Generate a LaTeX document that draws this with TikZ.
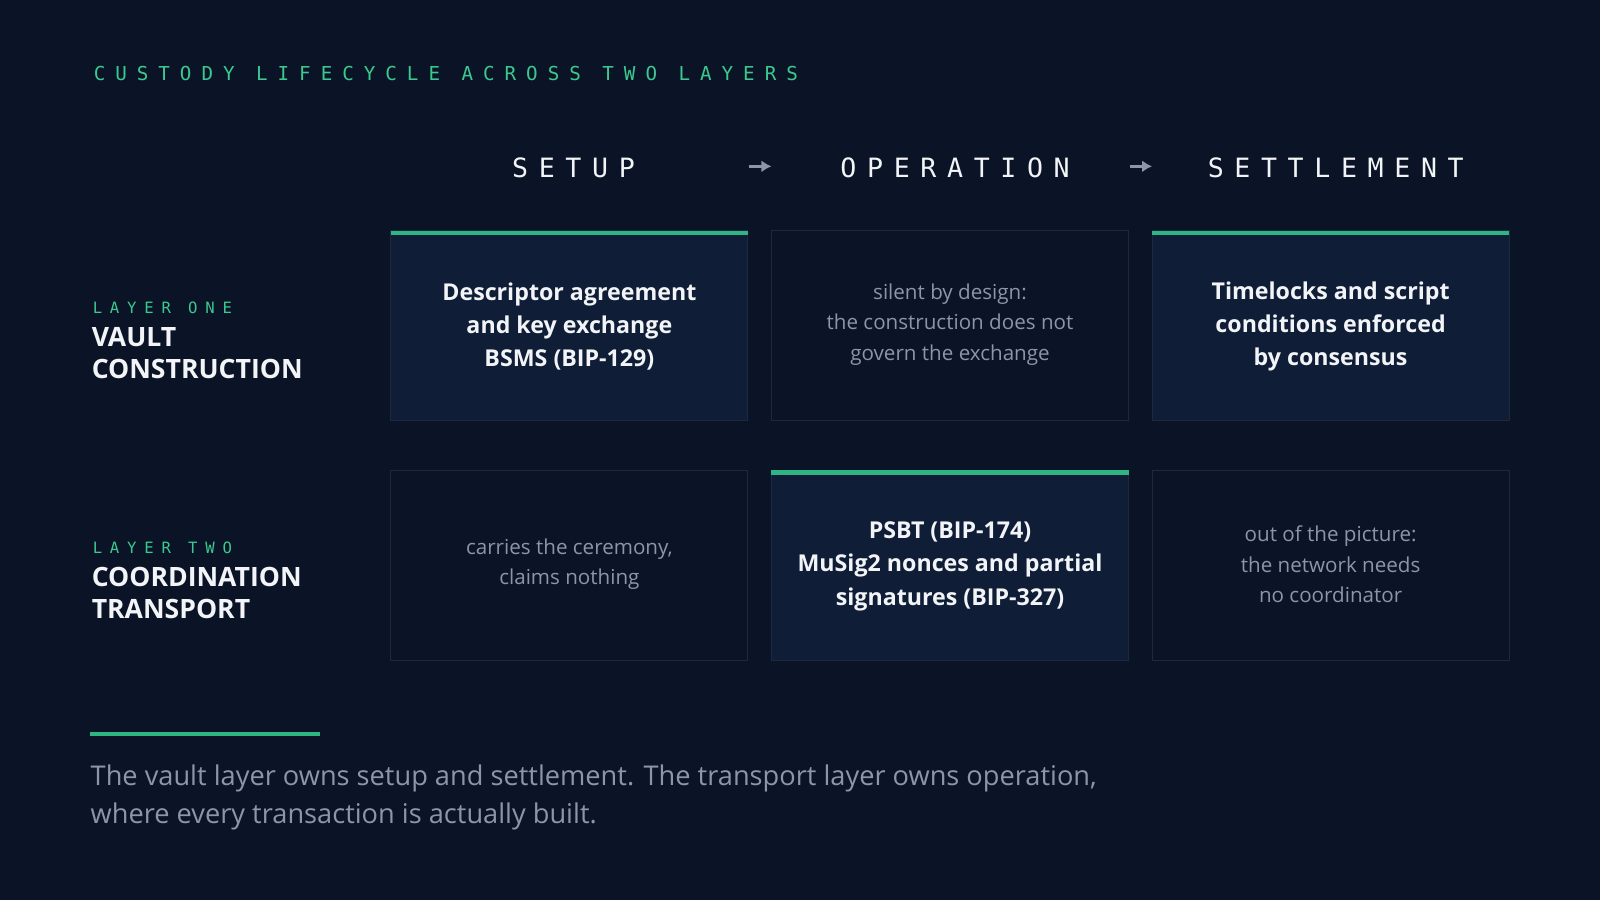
\documentclass[tikz,border=0pt]{standalone}
\usetikzlibrary{arrows.meta}
\usepackage{fontspec}
\setmainfont{Open Sans}
\newfontfamily\monoA[LetterSpace=52]{DejaVu Sans Mono}
\newfontfamily\monoC[LetterSpace=50]{DejaVu Sans Mono}
\newfontfamily\monoB[LetterSpace=40]{DejaVu Sans Mono}
\definecolor{bg}{HTML}{0A1426}
\definecolor{hi}{HTML}{0F1E36}
\definecolor{bd}{HTML}{1D2A3D}
\definecolor{gr}{HTML}{2FB583}
\definecolor{gt}{HTML}{3CC98F}
\definecolor{tx}{HTML}{8C96A8}
\definecolor{wh}{HTML}{F2F4F7}
\begin{document}
\begin{tikzpicture}[x=0.5102pt,y=-0.5102pt,
 cellhi/.style={fill=hi,draw=bd,line width=0.5pt},
 cello/.style={fill=bg,draw=bd,line width=0.5pt},
 bold/.style={align=center,text=wh,font=\fontsize{11.6}{16.6}\selectfont\bfseries},
 soft/.style={align=center,text=tx,font=\fontsize{10.3}{15.2}\selectfont},
 head/.style={text=wh,font=\monoB\fontsize{13.3}{15}\selectfont},
 lab/.style={anchor=west,text=gt,font=\monoC\fontsize{7.8}{9}\selectfont},
 big/.style={anchor=north west,align=left,text=wh,font=\fontsize{13.3}{16.2}\selectfont\bfseries},
 arr/.style={-{Latex[length=5pt,width=6pt]},line width=1.6pt,draw=tx}]
\fill[bg] (0,0) rectangle (1568,882);
\node[anchor=west,text=gt,font=\monoA\fontsize{9.6}{11}\selectfont] (title) at (85,72) {CUSTODY LIFECYCLE ACROSS TWO LAYERS};
\node[head] (h1) at (562,164) {SETUP};
\node[head] (h2) at (936,164) {OPERATION};
\node[head] (h3) at (1309,164) {SETTLEMENT};
\coordinate (a1) at (734,163); \coordinate (a1e) at (756,163);
\coordinate (a2) at (1107,163); \coordinate (a2e) at (1129,163);
\draw[arr] (a1) -- (a1e);
\draw[arr] (a2) -- (a2e);
% row 1
\draw[cellhi] (383,226) rectangle (733,412);
\fill[gr] (383,226) rectangle (733,230);
\draw[cello] (756,226) rectangle (1106,412);
\draw[cellhi] (1129,226) rectangle (1479,412);
\fill[gr] (1129,226) rectangle (1479,230);
\node[bold] (c11) at (558,320) {Descriptor agreement\\and key exchange\\BSMS (BIP-129)};
\node[soft] (c12) at (931,318) {silent by design:\\the construction does not\\govern the exchange};
\node[bold] (c13) at (1304,320) {Timelocks and script\\conditions enforced\\by consensus};
% row 2
\draw[cello] (383,461) rectangle (733,647);
\draw[cellhi] (756,461) rectangle (1106,647);
\fill[gr] (756,461) rectangle (1106,465);
\draw[cello] (1129,461) rectangle (1479,647);
\node[soft] (c21) at (558,553) {carries the ceremony,\\claims nothing};
\node[bold] (c22) at (931,555) {PSBT (BIP-174)\\MuSig2 nonces and partial\\signatures (BIP-327)};
\node[soft] (c23) at (1304,553) {out of the picture:\\the network needs\\no coordinator};
% row labels
\node[lab] (l1) at (84,302) {LAYER ONE};
\node[big] (v1) at (83,314) {VAULT\\CONSTRUCTION};
\node[lab] (l2) at (84,537) {LAYER TWO};
\node[big] (v2) at (83,549) {COORDINATION\\TRANSPORT};
% footer
\fill[gr] (88,717) rectangle (314,721);
\node[anchor=north west,align=left,text=tx,font=\fontsize{13.6}{19}\selectfont] (foot) at (82,743) {The vault layer owns setup and settlement. The transport layer owns operation,\\where every transaction is actually built.};
\end{tikzpicture}
\end{document}
